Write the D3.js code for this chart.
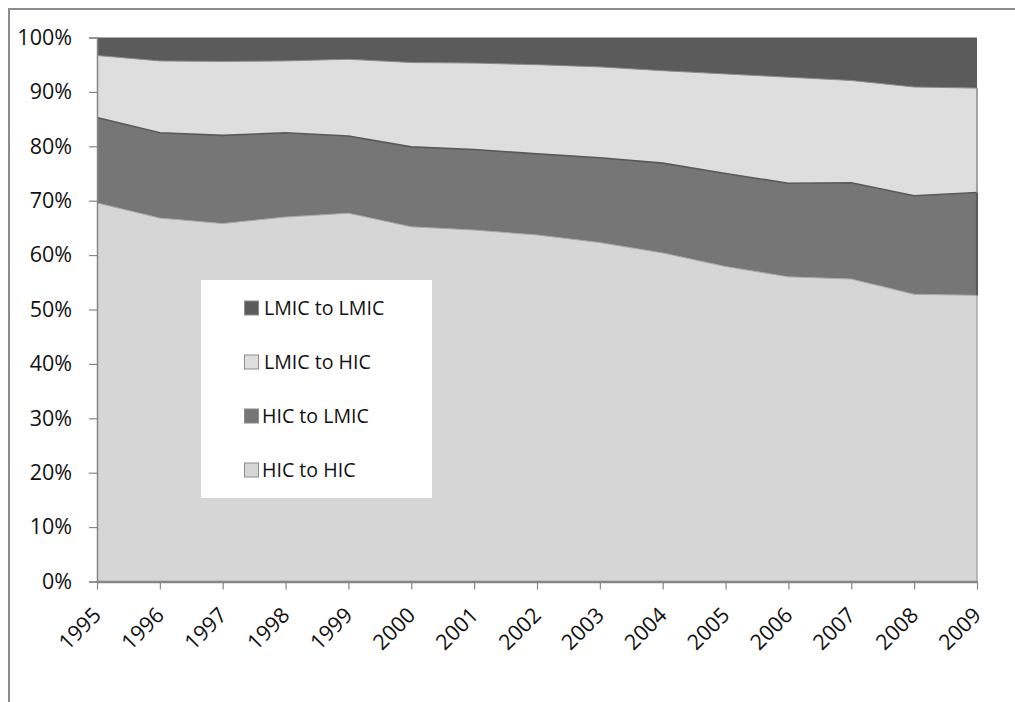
<!DOCTYPE html>
<html>
<head>
<meta charset="utf-8">
<script src="https://cdn.jsdelivr.net/npm/d3@7/dist/d3.min.js"></script>
<style>
  html, body { margin: 0; padding: 0; background: #ffffff; }
  svg { display: block; }
  text { font-family: "Open Sans", "Noto Sans", sans-serif; fill: #111; }
</style>
</head>
<body>
<svg id="chart" width="1015" height="702"></svg>
<script>
// ---- data (percent shares) ----
const years = [1995, 1996, 1997, 1998, 1999, 2000, 2001, 2002, 2003, 2004, 2005, 2006, 2007, 2008, 2009];
const hicToHic   = [69.6, 66.8, 65.8, 67.0, 67.7, 65.2, 64.6, 63.7, 62.3, 60.4, 57.9, 56.0, 55.6, 52.8, 52.6];
const hicToLmic  = [15.7, 15.7, 16.2, 15.5, 14.2, 14.7, 14.8, 14.9, 15.6, 16.5, 17.1, 17.2, 17.7, 18.1, 18.9];
const lmicToHic  = [11.4, 13.2, 13.6, 13.2, 14.1, 15.5, 15.9, 16.4, 16.7, 17.0, 18.3, 19.5, 18.8, 20.0, 19.2];
const lmicToLmic = [3.3, 4.3, 4.4, 4.3, 4.0, 4.6, 4.7, 5.0, 5.4, 6.1, 6.7, 7.3, 7.9, 9.1, 9.3];
const seriesNames = ["HIC to HIC", "HIC to LMIC", "LMIC to HIC", "LMIC to LMIC"];
const yTicks = [0, 0.1, 0.2, 0.3, 0.4, 0.5, 0.6, 0.7, 0.8, 0.9, 1.0];

const table = years.map((yr, i) => ({
  year: yr,
  "HIC to HIC": hicToHic[i],
  "HIC to LMIC": hicToLmic[i],
  "LMIC to HIC": lmicToHic[i],
  "LMIC to LMIC": lmicToLmic[i]
}));

const fills = {
  "HIC to HIC": "#d6d6d6",
  "HIC to LMIC": "#767676",
  "LMIC to HIC": "#dedede",
  "LMIC to LMIC": "#5b5b5b"
};
const edge = {
  "HIC to HIC": {c: "#a8a8a8", w: 1},
  "HIC to LMIC": {c: "#595959", w: 1.6},
  "LMIC to HIC": {c: "#8a8a8a", w: 1},
  "LMIC to LMIC": {c: "none", w: 0}
};

const svg = d3.select("#chart");
const pLeft = 97, pRight = 977, pTop = 37.5, pBottom = 581.5;

// outer frame (cropped chart border)
svg.append("path")
  .attr("d", "M9,702 L9,9 L1015,9")
  .attr("fill", "none").attr("stroke", "#8c8c8c").attr("stroke-width", 2);

const x = d3.scalePoint().domain(years).range([pLeft, pRight]);
const y = d3.scaleLinear().domain([0, 1]).range([pBottom, pTop]);

const stack = d3.stack().keys(seriesNames).offset(d3.stackOffsetExpand);
const layers = stack(table);

const area = d3.area()
  .x(d => x(d.data.year))
  .y0(d => y(d[0]))
  .y1(d => y(d[1]));

const g = svg.append("g");
g.selectAll("path.area")
  .data(layers)
  .join("path")
  .attr("class", "area")
  .attr("d", area)
  .attr("fill", d => fills[d.key]);

// boundary lines (top edge of each layer) and right edge
const topLine = d3.line().x(d => x(d.data.year)).y(d => y(d[1]));
layers.forEach(L => {
  const e = edge[L.key];
  if (e.c === "none") return;
  g.append("path").attr("d", topLine(L))
    .attr("fill", "none").attr("stroke", e.c).attr("stroke-width", e.w);
  const last = L[L.length - 1];
  g.append("line")
    .attr("x1", x(last.data.year)).attr("x2", x(last.data.year))
    .attr("y1", y(last[1])).attr("y2", y(last[0]))
    .attr("stroke", e.c).attr("stroke-width", e.w + 0.5);
});

// axes
const axisColor = "#868686";
const yAxis = d3.axisLeft(y).tickValues(yTicks).tickFormat(d3.format(".0%")).tickSize(8).tickPadding(17);
const ya = svg.append("g").attr("transform", `translate(${pLeft},0)`).call(yAxis);
ya.select(".domain").attr("stroke", axisColor).attr("stroke-width", 1.5);
ya.selectAll(".tick line").attr("stroke", axisColor).attr("stroke-width", 1.2);
ya.selectAll(".tick text").attr("font-size", 21.5).attr("fill", "#111")
  .attr("font-family", "'Open Sans', sans-serif");

const xAxis = d3.axisBottom(x).tickSize(8).tickSizeOuter(0);
const xa = svg.append("g").attr("transform", `translate(0,${pBottom})`).call(xAxis);
xa.select(".domain").attr("stroke", axisColor).attr("stroke-width", 2.5);
xa.selectAll(".tick line").attr("stroke", axisColor).attr("stroke-width", 1.2);
xa.selectAll(".tick text")
  .attr("font-size", 21.5).attr("fill", "#111")
  .attr("font-family", "'Open Sans', sans-serif")
  .attr("text-anchor", "end")
  .attr("dy", null)
  .attr("y", 0)
  .attr("transform", "translate(5,35) rotate(-45)");

// legend
const legend = svg.append("g");
legend.append("rect")
  .attr("x", 201).attr("y", 280).attr("width", 231).attr("height", 218)
  .attr("fill", "#ffffff");
const legendOrder = ["LMIC to LMIC", "LMIC to HIC", "HIC to LMIC", "HIC to HIC"];
const rowY = d3.scalePoint().domain(legendOrder).range([308, 470]);
legendOrder.forEach(k => {
  const cy = rowY(k);
  legend.append("rect")
    .attr("x", 244.5).attr("y", cy - 7).attr("width", 14).attr("height", 14)
    .attr("fill", fills[k]).attr("stroke", "#8c8c8c").attr("stroke-width", 1);
  legend.append("text")
    .attr("x", k.startsWith("LMIC") ? 264 : 262).attr("y", cy)
    .attr("dy", "0.36em")
    .attr("font-size", 19.6)
    .text(k);
});
</script>
</body>
</html>
